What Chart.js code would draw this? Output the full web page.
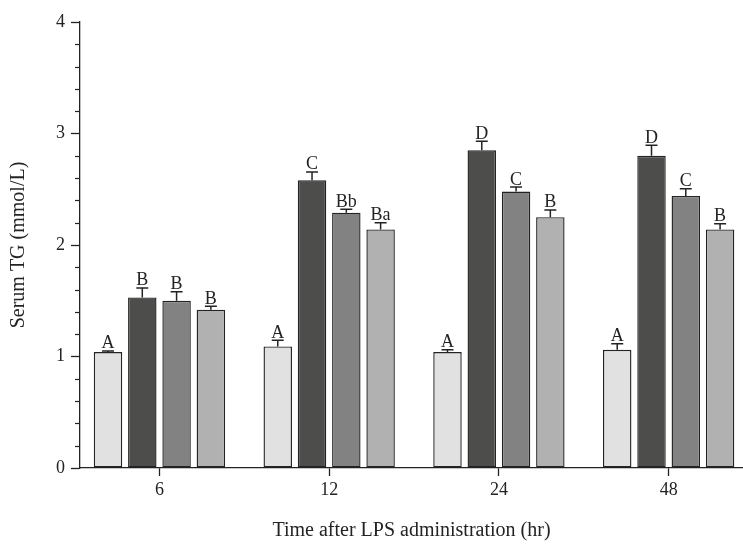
<!DOCTYPE html>
<html>
<head>
<meta charset="utf-8">
<script src="https://cdn.jsdelivr.net/npm/chart.js@4.4.1/dist/chart.umd.min.js"></script>
<style>
    html, body { margin: 0; padding: 0; background: #ffffff; }
    #wrap { width: 743px; height: 548px; }
</style>
</head>
<body>
<div id="wrap"><canvas id="tgChart" width="743" height="548"></canvas></div>
<script>
// time points (hr)
const categories = ['6', '12', '24', '48'];

// serum TG means per group
const controlValues = [1.04, 1.09, 1.04, 1.06];
const lpsValues = [1.53, 2.58, 2.85, 2.80];
const treatAValues = [1.50, 2.29, 2.48, 2.44];
const treatBValues = [1.42, 2.14, 2.25, 2.14];

// upper error (SD)
const controlErr = [0.01, 0.055, 0.02, 0.055];
const lpsErr = [0.085, 0.075, 0.08, 0.095];
const treatAErr = [0.08, 0.03, 0.04, 0.065];
const treatBErr = [0.03, 0.06, 0.065, 0.05];

// significance letters
const controlLetters = ['A', 'A', 'A', 'A'];
const lpsLetters = ['B', 'C', 'D', 'D'];
const treatALetters = ['B', 'Bb', 'C', 'C'];
const treatBLetters = ['B', 'Ba', 'B', 'B'];

const yTicks = [0, 1, 2, 3, 4];

const SERIF = "'Liberation Serif', 'Times New Roman', serif";
const INK = '#232323';

function toPoints(values) {
    return values.map((v, i) => ({ x: i, y: v }));
}

function makeSet(label, values, err, letters, color) {
    return {
        label: label,
        data: toPoints(values),
        errors: err,
        letters: letters,
        backgroundColor: color,
        borderColor: INK,
        borderWidth: 1.4,
        borderSkipped: false,
        categoryPercentage: 0.808,
        barPercentage: 0.83
    };
}

// error bars + letters above each bar
const errorBarPlugin = {
    id: 'errorBars',
    afterDatasetsDraw(chart) {
        const ctx = chart.ctx;
        const yScale = chart.scales.y;
        ctx.save();
        ctx.strokeStyle = INK;
        ctx.lineWidth = 1.5;
        ctx.fillStyle = INK;
        ctx.font = '18px ' + SERIF;
        ctx.textAlign = 'center';
        ctx.textBaseline = 'alphabetic';
        chart.data.datasets.forEach((ds, d) => {
            const meta = chart.getDatasetMeta(d);
            meta.data.forEach((bar, i) => {
                const v = ds.data[i].y;
                const top = yScale.getPixelForValue(v + ds.errors[i]);
                const base = yScale.getPixelForValue(v);
                ctx.beginPath();
                ctx.moveTo(bar.x, base);
                ctx.lineTo(bar.x, top);
                ctx.moveTo(bar.x - 6, top);
                ctx.lineTo(bar.x + 6, top);
                ctx.stroke();
                ctx.fillText(ds.letters[i], bar.x, top - 2.5);
            });
        });
        ctx.restore();
    }
};

// short minor ticks on the y axis
const minorTickPlugin = {
    id: 'minorTicks',
    afterDraw(chart) {
        const ctx = chart.ctx;
        const yScale = chart.scales.y;
        const left = chart.chartArea.left;
        ctx.save();
        ctx.strokeStyle = INK;
        ctx.lineWidth = 1.2;
        for (let k = 1; k < 20; k++) {
            if (k % 5 === 0) continue;
            const py = Math.round(yScale.getPixelForValue(k * 0.2)) + 0.5;
            ctx.beginPath();
            ctx.moveTo(left - 5, py);
            ctx.lineTo(left, py);
            ctx.stroke();
        }
        ctx.restore();
    }
};

const ctx = document.getElementById('tgChart').getContext('2d');

new Chart(ctx, {
    type: 'bar',
    data: {
        datasets: [
            makeSet('Control', controlValues, controlErr, controlLetters, '#e0e1e0'),
            makeSet('LPS', lpsValues, lpsErr, lpsLetters, '#4d4d4c'),
            makeSet('Group 3', treatAValues, treatAErr, treatALetters, '#828282'),
            makeSet('Group 4', treatBValues, treatBErr, treatBLetters, '#b1b1b1')
        ]
    },
    options: {
        responsive: false,
        animation: false,
        layout: {
            padding: { top: 22, right: 0, left: 0, bottom: 0 }
        },
        plugins: {
            legend: { display: false },
            tooltip: { enabled: false }
        },
        scales: {
            x: {
                type: 'linear',
                min: -0.468,
                max: 3.438,
                offset: false,
                afterBuildTicks: axis => {
                    axis.ticks = categories.map((c, i) => ({ value: i }));
                },
                afterFit: scale => { scale.height = 80; },
                grid: {
                    offset: false,
                    drawOnChartArea: false,
                    drawTicks: true,
                    tickLength: 8,
                    tickColor: INK,
                    tickWidth: 1.3
                },
                border: { display: true, color: INK, width: 1.3 },
                ticks: {
                    padding: 3,
                    color: INK,
                    font: { family: SERIF, size: 18 },
                    maxRotation: 0,
                    callback: value => categories[value]
                },
                title: {
                    display: true,
                    text: 'Time after LPS administration (hr)',
                    color: INK,
                    font: { family: SERIF, size: 20 },
                    padding: { top: 0, bottom: 5 }
                }
            },
            y: {
                min: 0,
                max: 4,
                afterBuildTicks: axis => {
                    axis.ticks = yTicks.map(v => ({ value: v }));
                },
                afterFit: scale => { scale.width = 80; },
                grid: {
                    drawOnChartArea: false,
                    drawTicks: true,
                    tickLength: 9,
                    tickColor: INK,
                    tickWidth: 1.3
                },
                border: { display: true, color: INK, width: 1.3 },
                ticks: {
                    padding: 6,
                    color: INK,
                    font: { family: SERIF, size: 18 }
                },
                title: {
                    display: true,
                    text: 'Serum TG (mmol/L)',
                    color: INK,
                    font: { family: SERIF, size: 20 },
                    padding: { top: 7, bottom: 0 }
                }
            }
        }
    },
    plugins: [errorBarPlugin, minorTickPlugin]
});
</script>
</body>
</html>
